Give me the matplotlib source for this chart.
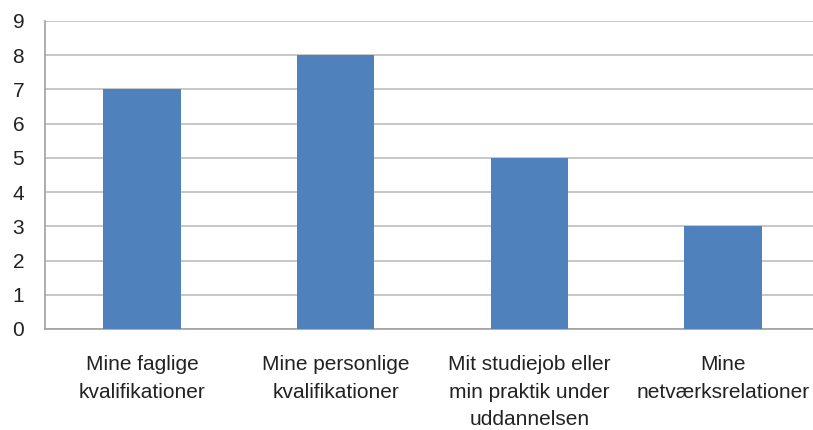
import matplotlib.pyplot as plt

categories = [
    "Mine faglige\nkvalifikationer",
    "Mine personlige\nkvalifikationer",
    "Mit studiejob eller\nmin praktik under\nuddannelsen",
    "Mine\nnetværksrelationer",
]
values = [7, 8, 5, 3]
yticks = list(range(0, 10))

plt.rcParams['font.family'] = ['Liberation Sans', 'DejaVu Sans']

fig = plt.figure(figsize=(8.13, 4.30), dpi=100)
ax = fig.add_axes([45 / 813, 101 / 430, 775 / 813, 308 / 430])

ax.bar(range(len(values)), values, width=0.4, color='#4F81BD', zorder=3)

ax.set_xlim(-0.5, len(values) - 0.5)
ax.set_ylim(0, 9)
ax.set_yticks(yticks)
ax.set_xticks(range(len(categories)))
ax.set_xticklabels(categories, linespacing=1.55)
ax.grid(axis='y', color='#BEBEBE', linewidth=1.2, zorder=0)
ax.tick_params(axis='y', length=0, pad=15, labelsize=15, colors='#222222')
ax.tick_params(axis='x', length=0, pad=19, labelsize=15, colors='#222222')

for side in ['top', 'right']:
    ax.spines[side].set_visible(False)
for side in ['left', 'bottom']:
    ax.spines[side].set_color('#A0A0A0')
    ax.spines[side].set_linewidth(1.2)

fig.savefig('out.png', dpi=100)
